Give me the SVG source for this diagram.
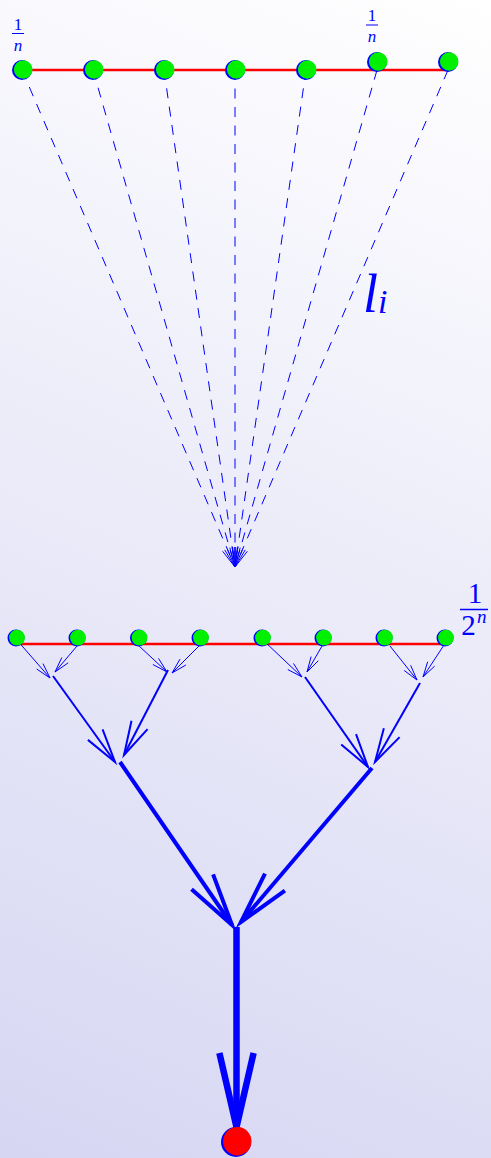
<svg xmlns="http://www.w3.org/2000/svg" width="491" height="1158" viewBox="0 0 491 1158">
<defs>
<linearGradient id="bg" gradientUnits="userSpaceOnUse" x1="491" y1="0" x2="0" y2="1158">
<stop offset="0" stop-color="#ffffff"/>
<stop offset="1" stop-color="#d6d6f3"/>
</linearGradient>
</defs>
<style>
.red{stroke:#ff0000;stroke-width:2.5;fill:none}
.dash{stroke:#0000ff;stroke-width:1;fill:none;stroke-dasharray:10 8.5}
.head{stroke:#0000ff;fill:none;stroke-linejoin:miter;stroke-miterlimit:12}
.a1{stroke:#0000ff;stroke-width:1;fill:none;stroke-linejoin:miter;stroke-miterlimit:12}
.a2{stroke:#0000ff;stroke-width:2;fill:none;stroke-linejoin:miter;stroke-miterlimit:12}
.a3{stroke:#0000ff;stroke-width:4;fill:none;stroke-linejoin:miter;stroke-miterlimit:12}
.a4{stroke:#0000ff;stroke-width:6.5;fill:none;stroke-linejoin:miter;stroke-miterlimit:12}
.ob{fill:#0000ff}
.og{fill:#00f000}
.t{fill:#0000ff;font-family:'Liberation Serif','DejaVu Serif',serif}
.it{font-style:italic}
</style>
<rect width="491" height="1158" fill="url(#bg)"/>

<g id="connectors">
<line class="red" x1="23" y1="70" x2="447" y2="70"/>
<line class="red" x1="16" y1="644" x2="444" y2="644"/>
<!-- dashed lines top -->
<line class="dash" x1="22" y1="70" x2="235" y2="567"/>
<line class="dash" x1="93" y1="70" x2="235" y2="567"/>
<line class="dash" x1="164" y1="70" x2="235" y2="567"/>
<line class="dash" x1="235" y1="70" x2="235" y2="567"/>
<line class="dash" x1="306" y1="70" x2="235" y2="567"/>
<line class="dash" x1="377" y1="70" x2="235" y2="567"/>
<line class="dash" x1="448" y1="70" x2="235" y2="567"/>
<polyline class="a1" points="222.63,551.29 235,567 232.14,547.21"/>
<polyline class="a1" points="224.72,549.85 235,567 234.67,547"/>
<polyline class="a1" points="227.14,548.61 235,567 237.39,547.14"/>
<polyline class="a1" points="229.82,547.68 235,567 240.18,547.68"/>
<polyline class="a1" points="232.61,547.14 235,567 242.86,548.61"/>
<polyline class="a1" points="235.33,547 235,567 245.28,549.85"/>
<polyline class="a1" points="237.86,547.21 235,567 247.37,551.29"/>
<!-- level 1 -->
<line class="a1" x1="16" y1="639" x2="50" y2="678"/>
<polyline class="a1" points="36.72,669.07 50,678 42.97,663.63"/>
<line class="a1" x1="77" y1="646" x2="55" y2="672"/>
<polyline class="a1" points="68.14,662.88 55,672 61.82,657.53"/>
<line class="a1" x1="138" y1="645" x2="167" y2="672"/>
<polyline class="a1" points="152.86,664.49 167,672 158.51,658.43"/>
<line class="a1" x1="200" y1="645" x2="172" y2="673"/>
<polyline class="a1" points="185.86,665 172,673 180,659.14"/>
<line class="a1" x1="264" y1="641" x2="302" y2="677"/>
<polyline class="a1" points="287.84,669.55 302,677 293.47,663.47"/>
<line class="a1" x1="322" y1="646" x2="307" y2="672"/>
<polyline class="a1" points="318.31,660.69 307,672 311.14,656.55"/>
<line class="a1" x1="390" y1="646" x2="417" y2="680"/>
<polyline class="a1" points="404.15,670.48 417,680 410.63,665.32"/>
<line class="a1" x1="444" y1="645" x2="423" y2="677"/>
<polyline class="a1" points="434.7,666.09 423,677 427.68,661.7"/>
<!-- level 2 -->
<line class="a2" x1="53" y1="676" x2="115" y2="762"/>
<polyline class="a2" points="87.88,739.88 115,762 102.57,729.28"/>
<line class="a2" x1="168" y1="670" x2="124" y2="755"/>
<polyline class="a2" points="147.59,729.14 124,755 131.5,720.81"/>
<line class="a2" x1="305" y1="677" x2="368" y2="767"/>
<polyline class="a2" points="341.2,744.5 368,767 356.04,734.11"/>
<line class="a2" x1="420" y1="683" x2="375" y2="762"/>
<polyline class="a2" points="399.6,737.1 375,762 383.86,728.14"/>
<!-- level 3 -->
<line class="a3" x1="120" y1="762" x2="232" y2="925"/>
<polyline class="a3" points="191.56,889.22 232,925 213.09,874.42"/>
<line class="a3" x1="372" y1="768" x2="241" y2="922"/>
<polyline class="a3" points="284.9,890.55 241,922 265,873.63"/>
<!-- level 4 -->
<line class="a4" x1="236.5" y1="927" x2="236.5" y2="1125"/>
<polyline class="a4" points="219.4,1053 236.5,1127 253.6,1053"/>
</g>

<g id="top-nodes">
<g id="p1"><circle class="ob" cx="22" cy="70" r="10"/><circle class="og" cx="23.2" cy="69.5" r="9.3"/></g>
<g id="p2"><circle class="ob" cx="93" cy="70" r="10"/><circle class="og" cx="94.2" cy="69.5" r="9.3"/></g>
<g id="p3"><circle class="ob" cx="164" cy="70" r="10"/><circle class="og" cx="165.2" cy="69.5" r="9.3"/></g>
<g id="p4"><circle class="ob" cx="235" cy="70" r="10"/><circle class="og" cx="236.2" cy="69.5" r="9.3"/></g>
<g id="p5"><circle class="ob" cx="306" cy="70" r="10"/><circle class="og" cx="307.2" cy="69.5" r="9.3"/></g>
<g id="p6"><circle class="ob" cx="377" cy="62" r="10"/><circle class="og" cx="378.2" cy="61.5" r="9.3"/></g>
<g id="p7"><circle class="ob" cx="448" cy="62" r="10"/><circle class="og" cx="449.2" cy="61.5" r="9.3"/></g>
</g>

<g id="bottom-nodes">
<g id="q1"><circle class="ob" cx="16" cy="638" r="8.5"/><circle class="og" cx="17" cy="637.6" r="7.9"/></g>
<g id="q2"><circle class="ob" cx="77" cy="638" r="8.5"/><circle class="og" cx="78" cy="637.6" r="7.9"/></g>
<g id="q3"><circle class="ob" cx="138.5" cy="638" r="8.5"/><circle class="og" cx="139.5" cy="637.6" r="7.9"/></g>
<g id="q4"><circle class="ob" cx="200" cy="638" r="8.5"/><circle class="og" cx="201" cy="637.6" r="7.9"/></g>
<g id="q5"><circle class="ob" cx="262" cy="638" r="8.5"/><circle class="og" cx="263" cy="637.6" r="7.9"/></g>
<g id="q6"><circle class="ob" cx="323" cy="638" r="8.5"/><circle class="og" cx="324" cy="637.6" r="7.9"/></g>
<g id="q7"><circle class="ob" cx="384" cy="638" r="8.5"/><circle class="og" cx="385" cy="637.6" r="7.9"/></g>
<g id="q8"><circle class="ob" cx="445" cy="638" r="8.5"/><circle class="og" cx="446" cy="637.6" r="7.9"/></g>
</g>

<g id="root"><circle class="ob" cx="236" cy="1142" r="15"/><circle fill="#ff0000" cx="237.3" cy="1141.3" r="14.2"/></g>

<g id="labels">
<text class="t" x="18" y="30" font-size="17" text-anchor="middle">1</text>
<line x1="12" y1="33.5" x2="24" y2="33.5" stroke="#0000ff" stroke-width="1"/>
<text class="t it" x="18" y="51" font-size="17" text-anchor="middle">n</text>

<text class="t" x="372" y="21" font-size="17" text-anchor="middle">1</text>
<line x1="366" y1="25" x2="378" y2="25" stroke="#0000ff" stroke-width="1"/>
<text class="t it" x="372" y="42" font-size="17" text-anchor="middle">n</text>

<text class="t" x="475" y="603" font-size="29" text-anchor="middle">1</text>
<line x1="460" y1="609.5" x2="488" y2="609.5" stroke="#0000ff" stroke-width="1.5"/>
<text class="t" x="468.5" y="635" font-size="29" text-anchor="middle">2</text>
<text class="t it" x="477" y="623" font-size="19">n</text>

<text class="t it" x="363" y="312" font-size="54">l</text>
<text class="t it" x="378" y="313" font-size="34">i</text>
</g>
</svg>
